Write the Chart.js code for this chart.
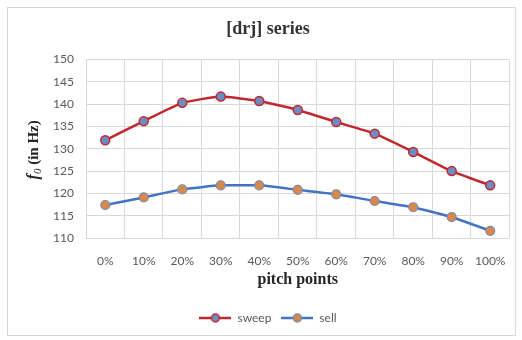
<!DOCTYPE html>
<html>
<head>
<meta charset="utf-8">
<script src="https://cdn.jsdelivr.net/npm/chart.js@4/dist/chart.umd.min.js"></script>
<style>
  body { margin: 0; background: #fff; }
  #frame { position: absolute; left: 7px; top: 7px; width: 507px; height: 327px; border: 1px solid #d9d9d9; }
  #wrap { position: absolute; left: 0; top: 0; width: 522px; height: 340px; }
</style>
</head>
<body>
<div id="frame"></div>
<div id="wrap"><canvas id="chart" width="522" height="340"></canvas></div>
<script>
// Data
const pitchPoints = ['0%', '10%', '20%', '30%', '40%', '50%', '60%', '70%', '80%', '90%', '100%'];
const sweepValues = [131.9, 136.2, 140.3, 141.7, 140.7, 138.7, 136.0, 133.4, 129.3, 125.0, 121.8];
const sellValues = [117.4, 119.1, 120.9, 121.8, 121.8, 120.8, 119.8, 118.3, 116.9, 114.7, 111.6];
const yTicks = { min: 110, max: 150, step: 5 };

const sweepLine = '#c0282e';
const sweepMarker = '#6d8cc4';
const sellLine = '#4472c4';
const sellMarker = '#d8884a';
const tickColor = '#595959';
const gridColor = '#d9d9d9';

// legend marker: a short line with a circle in the middle
function legendMarker(lineColor, fillColor, borderColor) {
    const c = document.createElement('canvas');
    c.width = 32;
    c.height = 12;
    const ctx = c.getContext('2d');
    ctx.strokeStyle = lineColor;
    ctx.lineWidth = 2.5;
    ctx.beginPath();
    ctx.moveTo(0, 6);
    ctx.lineTo(32, 6);
    ctx.stroke();
    ctx.beginPath();
    ctx.arc(16, 6, 4, 0, Math.PI * 2);
    ctx.fillStyle = fillColor;
    ctx.fill();
    ctx.lineWidth = 1.5;
    ctx.strokeStyle = borderColor;
    ctx.stroke();
    return c;
}

// y axis title with italic f and subscript 0
const yTitlePlugin = {
    id: 'yTitle',
    afterDraw(chart) {
        const ctx = chart.ctx;
        const area = chart.chartArea;
        const cy = (area.top + area.bottom) / 2 + 1;
        ctx.save();
        ctx.translate(34, cy);
        ctx.rotate(-Math.PI / 2);
        ctx.fillStyle = '#262626';
        ctx.textBaseline = 'middle';
        const partF = 'f';
        const partSub = '0';
        const partRest = ' (in Hz)';
        ctx.font = 'bold italic 16px "Liberation Serif"';
        const wF = ctx.measureText(partF).width;
        ctx.font = 'italic 11px "Liberation Serif"';
        const wS = ctx.measureText(partSub).width;
        ctx.font = 'bold 15px "Liberation Serif"';
        const wR = ctx.measureText(partRest).width;
        let x = -(wF + wS + wR) / 2;
        ctx.font = 'bold italic 16px "Liberation Serif"';
        ctx.fillText(partF, x, 0);
        x += wF;
        ctx.font = 'italic 11px "Liberation Serif"';
        ctx.fillText(partSub, x, 4);
        x += wS;
        ctx.font = 'bold 15px "Liberation Serif"';
        ctx.fillText(partRest, x, 0);
        ctx.restore();
    }
};

new Chart(document.getElementById('chart'), {
    type: 'line',
    data: {
        labels: pitchPoints,
        datasets: [
            {
                label: 'sweep',
                data: sweepValues,
                borderColor: sweepLine,
                borderWidth: 2.5,
                pointBackgroundColor: sweepMarker,
                pointBorderColor: sweepLine,
                pointBorderWidth: 1.5,
                pointRadius: 4.5,
                tension: 0.15,
                legendMarker: legendMarker(sweepLine, sweepMarker, sweepLine)
            },
            {
                label: 'sell',
                data: sellValues,
                borderColor: sellLine,
                borderWidth: 2.5,
                pointBackgroundColor: sellMarker,
                pointBorderColor: '#7f8aa8',
                pointBorderWidth: 1.2,
                pointRadius: 4.5,
                tension: 0.15,
                legendMarker: legendMarker(sellLine, sellMarker, '#7f8aa8')
            }
        ]
    },
    options: {
        responsive: false,
        animation: false,
        layout: { padding: { left: 26, right: 12, top: 0, bottom: 6 } },
        scales: {
            x: {
                offset: true,
                grid: { offset: true, color: gridColor, drawTicks: false },
                border: { display: false },
                ticks: { color: tickColor, font: { family: 'Lato', size: 12 }, padding: 16 },
                title: {
                    display: true,
                    text: 'pitch points',
                    color: '#262626',
                    font: { family: 'Liberation Serif', size: 16, weight: 'bold' },
                    padding: { top: 4, bottom: 13 }
                },
                afterFit(scale) { scale.height = 64; }
            },
            y: {
                min: yTicks.min,
                max: yTicks.max,
                grid: { color: gridColor, drawTicks: false },
                border: { display: false },
                ticks: { stepSize: yTicks.step, color: tickColor, font: { family: 'Lato', size: 12 }, padding: 12 },
                afterFit(scale) { scale.width = 60; }
            }
        },
        plugins: {
            title: {
                display: true,
                text: '[drj] series',
                color: '#333333',
                font: { family: 'Liberation Serif', size: 18, weight: 'bold' },
                padding: { top: 19, bottom: 19 }
            },
            legend: {
                position: 'bottom',
                labels: {
                    usePointStyle: true,
                    pointStyleWidth: 32,
                    color: tickColor,
                    font: { family: 'Lato', size: 12 },
                    padding: 10,
                    generateLabels(chart) {
                        return chart.data.datasets.map((ds, i) => ({
                            text: ds.label,
                            pointStyle: ds.legendMarker,
                            fillStyle: ds.pointBackgroundColor,
                            strokeStyle: ds.borderColor,
                            lineWidth: 0,
                            fontColor: tickColor,
                            hidden: false,
                            datasetIndex: i
                        }));
                    }
                }
            },
            tooltip: { enabled: false }
        }
    },
    plugins: [yTitlePlugin]
});
</script>
</body>
</html>
